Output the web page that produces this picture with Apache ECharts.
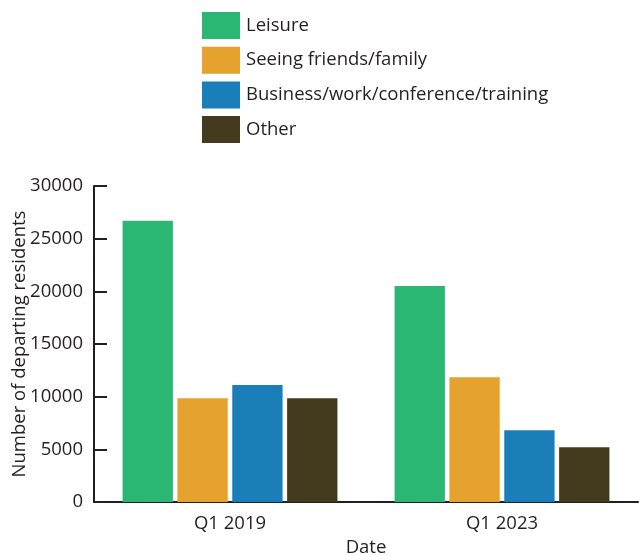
<!DOCTYPE html>
<html>
<head>
<meta charset="utf-8">
<script src="https://cdn.jsdelivr.net/npm/echarts@6/dist/echarts.min.js"></script>
<style>
  html, body { margin: 0; padding: 0; background: #fff; }
</style>
</head>
<body>
<div id="myChart" style="width: 639px; height: 555px;"></div>
<script>
    // data
    const categories = ['Q1 2019', 'Q1 2023'];
    const leisure = [26700, 20500];
    const friends = [9850, 11850];
    const business = [11100, 6800];
    const other = [9850, 5200];
    const yTicks = [0, 5000, 10000, 15000, 20000, 25000, 30000];

    const textColor = '#231f20';
    const font = 'Open Sans';

    let myChart = echarts.init(document.getElementById('myChart'));

    function bar(name, data, color) {
        return {
            name: name,
            type: 'bar',
            data: data,
            itemStyle: {color: color},
            barGap: '9%',
            barCategoryGap: '21%'
        };
    }

    myChart.setOption({
        animation: false,
        textStyle: {fontFamily: font, color: textColor},
        legend: {
            orient: 'vertical',
            left: 197,
            top: 7,
            itemWidth: 38,
            itemHeight: 27,
            itemGap: 7.7,
            icon: 'rect',
            textStyle: {fontSize: 18.5, color: textColor, fontFamily: font, padding: [0, 0, 0, 1]},
            data: ['Leisure', 'Seeing friends/family', 'Business/work/conference/training', 'Other']
        },
        grid: {left: 94, right: 1, top: 186, bottom: 53, outerBoundsMode: 'none'},
        xAxis: {
            type: 'category',
            data: categories,
            name: 'Date',
            nameLocation: 'middle',
            nameGap: 36,
            nameMoveOverlap: false,
            nameTextStyle: {fontSize: 18.5, color: textColor},
            axisLine: {lineStyle: {color: textColor, width: 2}},
            axisTick: {inside: true, length: 9, lineStyle: {color: textColor, width: 2}},
            axisLabel: {fontSize: 18.5, color: textColor, margin: 12}
        },
        yAxis: {
            type: 'value',
            min: yTicks[0],
            max: yTicks[yTicks.length - 1],
            interval: yTicks[1] - yTicks[0],
            name: 'Number of departing residents',
            nameLocation: 'middle',
            nameGap: 65,
            nameMoveOverlap: false,
            nameTextStyle: {fontSize: 18.5, color: textColor},
            splitLine: {show: false},
            axisLine: {show: true, lineStyle: {color: textColor, width: 2}},
            axisTick: {show: true, inside: true, length: 13, lineStyle: {color: textColor, width: 2}},
            axisLabel: {fontSize: 18.5, color: textColor, margin: 11, formatter: function (v) { return String(v); }}
        },
        series: [
            bar('Leisure', leisure, '#2bb673'),
            bar('Seeing friends/family', friends, '#e5a22f'),
            bar('Business/work/conference/training', business, '#1a7fb8'),
            bar('Other', other, '#443a1e')
        ]
    });
</script>
</body>
</html>
